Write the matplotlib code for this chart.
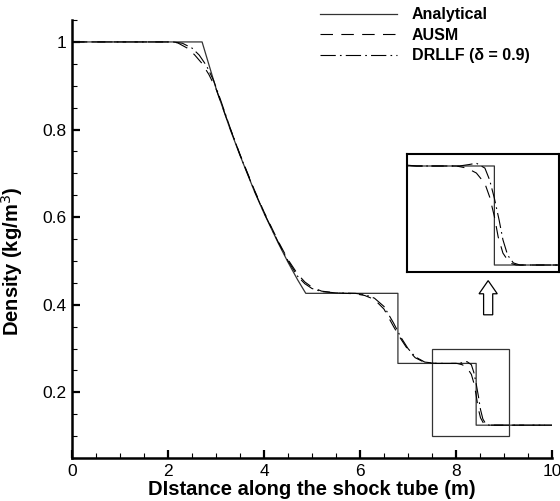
import matplotlib
matplotlib.use('Agg')
import matplotlib.pyplot as plt
from matplotlib.patches import Rectangle, FancyArrow
from matplotlib.ticker import MultipleLocator

plt.rcParams['font.family'] = ['Liberation Sans', 'DejaVu Sans']
plt.rcParams['lines.scale_dashes'] = False

# analytical Sod solution
x_exact = [0.0, 2.71, 3.0, 3.3, 3.5, 3.8, 4.0, 4.3, 4.5, 4.7, 4.87, 6.79, 6.79, 8.42, 8.42, 10.0]
rho_exact = [1.0, 1.0, 0.894, 0.799, 0.741, 0.659, 0.609, 0.540, 0.497, 0.457, 0.426,
             0.426, 0.266, 0.266, 0.125, 0.125]

x_ausm = [0.0, 2.0, 2.2, 2.4, 2.55, 2.7, 2.85, 3.0, 3.15, 3.3, 3.5, 3.8, 4.0, 4.3, 4.5,
          4.7, 4.85, 5.0, 5.2, 5.5, 5.9, 6.1, 6.3, 6.5, 6.7, 6.85, 7.0, 7.15, 7.35, 7.6,
          8.02, 8.13, 8.23, 8.32, 8.37, 8.42, 8.46, 8.51, 8.58, 8.65, 10.0]
rho_ausm = [1.0, 1.0, 0.998, 0.986, 0.971, 0.952, 0.926, 0.893, 0.847, 0.801, 0.743,
            0.662, 0.612, 0.544, 0.503, 0.470, 0.452, 0.440, 0.431, 0.427, 0.425, 0.421,
            0.412, 0.390, 0.350, 0.322, 0.297, 0.279, 0.268, 0.266,
            0.266, 0.263, 0.256, 0.241, 0.222, 0.194, 0.165, 0.142, 0.128, 0.125, 0.125]

x_drllf = [0.0, 2.1, 2.3, 2.5, 2.65, 2.8, 2.95, 3.1, 3.3, 3.5, 3.8, 4.0, 4.3, 4.5,
           4.7, 4.85, 5.0, 5.2, 5.5, 5.9, 6.1, 6.3, 6.5, 6.7, 6.85, 7.0, 7.15, 7.35, 7.6,
           8.05, 8.15, 8.23, 8.32, 8.37, 8.42, 8.47, 8.51, 8.56, 8.62, 8.69, 10.0]
rho_drllf = [1.0, 1.0, 0.997, 0.986, 0.970, 0.946, 0.912, 0.866, 0.802, 0.742,
             0.660, 0.610, 0.542, 0.500, 0.465, 0.448, 0.437, 0.430, 0.427, 0.426, 0.423,
             0.415, 0.396, 0.358, 0.326, 0.300, 0.281, 0.269, 0.266,
             0.266, 0.268, 0.270, 0.263, 0.246, 0.220, 0.189, 0.161, 0.139, 0.128, 0.125, 0.125]

labels = ['Analytical', 'AUSM', 'DRLLF (δ = 0.9)']

fig = plt.figure(figsize=(5.6, 5.01), dpi=100)
ax = fig.add_axes([0.1286, 0.0858, 0.8571, 0.8742])


def draw(a):
    l1, = a.plot(x_exact, rho_exact, color='#333333', lw=0.9)
    l2, = a.plot(x_ausm, rho_ausm, color='black', lw=0.8, linestyle=(0, (9, 6)))
    l3, = a.plot(x_drllf, rho_drllf, color='black', lw=0.8, linestyle=(0, (11, 3, 1.2, 3)))
    return l1, l2, l3


lines = draw(ax)
ax.set_xlim(0, 10)
ax.set_ylim(0.05, 1.05)
for s in ['top', 'right']:
    ax.spines[s].set_visible(False)
for s in ['left', 'bottom']:
    ax.spines[s].set_linewidth(1.8)
ax.xaxis.set_major_locator(MultipleLocator(2))
ax.xaxis.set_minor_locator(MultipleLocator(0.5))
ax.yaxis.set_minor_locator(MultipleLocator(0.05))
ax.set_yticks([0.2, 0.4, 0.6, 0.8, 1.0])
ax.set_yticklabels(['0.2', '0.4', '0.6', '0.8', '1'])
ax.tick_params(which='major', direction='in', length=6, width=1.6, labelsize=12.5, pad=4)
ax.tick_params(which='minor', direction='in', length=3.5, width=0.8)
ax.set_xlabel('DIstance along the shock tube (m)', fontsize=14.5, fontweight='bold', labelpad=1)
ax.set_ylabel('Density (kg/m$^3$)', fontsize=14.5, fontweight='bold')
ax.yaxis.set_label_coords(-0.098, 0.45)

# zoom box
ax.add_patch(Rectangle((7.5, 0.1), 1.6, 0.2, fill=False, edgecolor='#333333', lw=0.9))

# arrow pointing to inset
ax.add_patch(FancyArrow(8.67, 0.377, 0, 0.078, width=0.19, head_width=0.38, head_length=0.03,
                        length_includes_head=True, facecolor='white', edgecolor='black', lw=0.9))

leg = ax.legend(lines, labels, loc='upper left', bbox_to_anchor=(0.566, 0.992),
                bbox_transform=fig.transFigure, frameon=False, borderpad=0.2, borderaxespad=0,
                handlelength=4.8, handletextpad=0.95, labelspacing=0.35,
                prop={'weight': 'bold', 'size': 11.5})

# inset
axin = fig.add_axes([0.727, 0.457, 0.271, 0.2355])
draw(axin)
axin.set_xlim(7.5, 9.1)
axin.set_ylim(0.115, 0.283)
axin.set_xticks([])
axin.set_yticks([])
for s in axin.spines.values():
    s.set_linewidth(1.5)

fig.savefig('out.png', dpi=100)
